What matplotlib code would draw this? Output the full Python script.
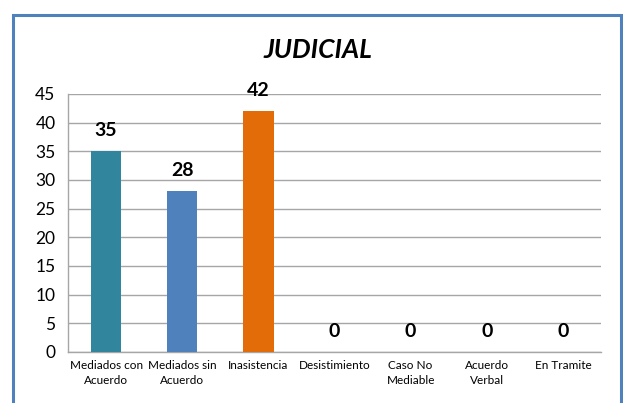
import matplotlib.pyplot as plt
from matplotlib.patches import Rectangle

# Datos
categorias = ['Mediados con\nAcuerdo', 'Mediados sin\nAcuerdo', 'Inasistencia',
              'Desistimiento', 'Caso No\nMediable', 'Acuerdo\nVerbal', 'En Tramite']
valores = [35, 28, 42, 0, 0, 0, 0]
colores = ['#31859C', '#4F81BD', '#E36C09', '#4F81BD', '#4F81BD', '#4F81BD', '#4F81BD']
yticks = [0, 5, 10, 15, 20, 25, 30, 35, 40, 45]

plt.rcParams['font.family'] = ['Lato', 'DejaVu Sans']

W, H = 623, 403
fig = plt.figure(figsize=(W / 100, H / 100), dpi=100)
ax = fig.add_axes([68 / W, 1 - 352 / H, (601 - 68) / W, (352 - 94) / H])

x = range(len(categorias))
ax.bar(x, valores, width=0.4, color=colores, zorder=3)

for xi, v in zip(x, valores):
    ax.annotate(str(v), (xi, v), xytext=(0, 15), textcoords='offset points',
                ha='center', va='center', fontsize=14, fontweight='bold')

ax.set_xlim(-0.5, len(categorias) - 0.5)
ax.set_ylim(0, 45)
ax.set_yticks(yticks)
ax.set_xticks(list(x))
ax.set_xticklabels(categorias, fontsize=8.5, linespacing=1.4)
ax.tick_params(axis='y', length=0, pad=9, labelsize=12.5)
ax.tick_params(axis='x', length=0, pad=6)
ax.grid(axis='y', color='#A6A6A6', linewidth=1, zorder=0)

for s in ['top', 'right']:
    ax.spines[s].set_visible(False)
for s in ['left', 'bottom']:
    ax.spines[s].set_color('#A6A6A6')
    ax.spines[s].set_linewidth(1)

fig.text(318 / W, 1 - 50 / H, 'JUDICIAL', ha='center', va='center',
         fontsize=19, fontweight='bold', fontstyle='italic')

# Marco azul
fig.patches.append(Rectangle((13.5 / W, -0.1), (621 - 13.5) / W, (H - 15) / H + 0.1,
                             transform=fig.transFigure, fill=False,
                             edgecolor='#4F81BD', linewidth=2.2))

fig.savefig('out.png', dpi=100)
